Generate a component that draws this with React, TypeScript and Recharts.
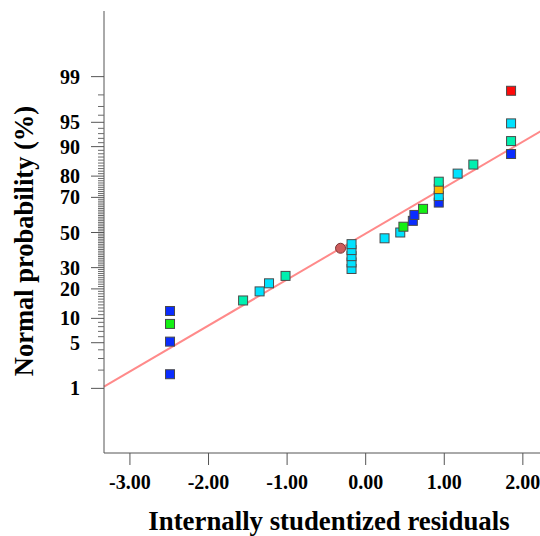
import React from "react";
import {
  ScatterChart,
  Scatter,
  XAxis,
  YAxis,
  ReferenceLine,
  Label,
} from "recharts";

// residuals (x) and their normal probability (%)
const residuals = [
  -2.49, -2.49, -2.49, -2.49, -1.56, -1.35, -1.23, -1.02, -0.18, -0.18, -0.18,
  -0.18, -0.18, 0.24, 0.44, 0.48, 0.6, 0.62, 0.73, 0.93, 0.93, 0.93, 0.93, 1.17,
  1.37, 1.85, 1.85, 1.85, 1.85,
];
const probabilities = [
  1.72, 5.17, 8.62, 12.07, 15.52, 18.97, 22.41, 25.86, 29.31, 32.76, 36.21,
  39.66, 43.1, 46.55, 50.0, 53.45, 56.9, 60.34, 63.79, 67.24, 70.69, 74.14,
  77.59, 81.03, 84.48, 87.93, 91.38, 94.83, 98.28,
];
const groups = [
  "blue", "blue", "green", "blue", "teal", "cyan", "cyan", "teal", "cyan",
  "cyan", "cyan", "cyan", "cyan", "cyan", "cyan", "green", "blue", "blue",
  "green", "blue", "cyan", "orange", "teal", "cyan", "teal", "blue", "teal",
  "cyan", "red",
];

// highlighted run (circle marker)
const highlightResidual = [-0.32];
const highlightProbability = [40.7];

// fitted normal line: z = slope * residual + intercept
const fitSlope = 0.686;
const fitIntercept = -0.016;

const xTicks = [-3, -2, -1, 0, 1, 2];
const majorPercents = [1, 5, 10, 20, 30, 50, 70, 80, 90, 95, 99];
const minorPercents = Array.from({ length: 99 }, (_, i) => i + 1);

const palette: Record<string, string> = {
  blue: "#0a2cff",
  green: "#14f014",
  cyan: "#00e2ff",
  teal: "#00f0b0",
  orange: "#ffbb00",
  red: "#ff0a0a",
};

const X_DOMAIN: [number, number] = [-3.33, 2.32];
const Y_DOMAIN: [number, number] = [-3.291, 3.306];
const FONT = '"Liberation Serif", "Times New Roman", serif';
const FRAME = "#555";

// inverse standard normal cdf (Acklam)
function probit(p: number): number {
  const a = [-39.69683028665376, 220.9460984245205, -275.928510446969, 138.357751867269, -30.66479806614716, 2.506628277459239];
  const b = [-54.47609879822406, 161.5858368580409, -155.6989798598866, 66.80131188771972, -13.28068155288572];
  const c = [-0.007784894002430293, -0.3223964580411365, -2.400758277161838, -2.549732539343734, 4.374664141464968, 2.938163982698783];
  const d = [0.007784695709041462, 0.3224671290700398, 2.445134137142996, 3.754408661907416];
  const pl = 0.02425;
  if (p < pl) {
    const q = Math.sqrt(-2 * Math.log(p));
    return (((((c[0] * q + c[1]) * q + c[2]) * q + c[3]) * q + c[4]) * q + c[5]) /
      ((((d[0] * q + d[1]) * q + d[2]) * q + d[3]) * q + 1);
  }
  if (p > 1 - pl) {
    const q = Math.sqrt(-2 * Math.log(1 - p));
    return -(((((c[0] * q + c[1]) * q + c[2]) * q + c[3]) * q + c[4]) * q + c[5]) /
      ((((d[0] * q + d[1]) * q + d[2]) * q + d[3]) * q + 1);
  }
  const q = p - 0.5;
  const r = q * q;
  return ((((((a[0] * r + a[1]) * r + a[2]) * r + a[3]) * r + a[4]) * r + a[5]) * q) /
    (((((b[0] * r + b[1]) * r + b[2]) * r + b[3]) * r + b[4]) * r + 1);
}

const points = residuals.map((x, i) => ({
  x,
  z: probit(probabilities[i] / 100),
  color: palette[groups[i]],
}));

const highlight = highlightResidual.map((x, i) => ({
  x,
  z: probit(highlightProbability[i] / 100),
}));

const yTicks = minorPercents.map((p) => probit(p / 100));

const fitSegment = X_DOMAIN.map((x) => ({ x, y: fitSlope * x + fitIntercept }));

// eslint-disable-next-line @typescript-eslint/no-explicit-any
const SquareMark = (props: any) => {
  const { cx, cy, payload } = props;
  if (cx == null || cy == null) return null;
  return (
    <rect
      x={cx - 4.5}
      y={cy - 4.5}
      width={9}
      height={9}
      fill={payload.color}
      stroke="#4a4a4a"
      strokeWidth={1}
    />
  );
};

// eslint-disable-next-line @typescript-eslint/no-explicit-any
const CircleMark = (props: any) => {
  const { cx, cy } = props;
  if (cx == null || cy == null) return null;
  return <circle cx={cx} cy={cy} r={5} fill="#cd5c5c" stroke="#7a3434" strokeWidth={1} />;
};

// eslint-disable-next-line @typescript-eslint/no-explicit-any
const ProbTick = (props: any) => {
  const { x, y, index } = props;
  const pct = minorPercents[index];
  const major = majorPercents.includes(pct);
  return (
    <g>
      <line
        x1={x - (major ? 13 : 6)}
        x2={x}
        y1={y}
        y2={y}
        stroke={major ? FRAME : "#6a6a6a"}
        strokeWidth={1}
      />
      {major && (
        <text
          x={x - 24}
          y={y}
          dy="0.35em"
          textAnchor="end"
          fontFamily={FONT}
          fontWeight="bold"
          fontSize={20}
          fill="#000"
        >
          {pct}
        </text>
      )}
    </g>
  );
};

export default function App() {
  return (
    <div
      style={{
        position: "absolute",
        left: 0,
        top: 0,
        width: 540,
        height: 536,
        overflow: "hidden",
        background: "#fff",
      }}
    >
      <ScatterChart
        width={560}
        height={536}
        margin={{ top: 11, right: 12, bottom: 0, left: 0 }}
      >
        <XAxis
          xAxisId="top"
          orientation="top"
          type="number"
          dataKey="x"
          domain={X_DOMAIN}
          height={0}
          tick={false}
          tickLine={false}
          axisLine={{ stroke: FRAME }}
        />
        <XAxis
          type="number"
          dataKey="x"
          domain={X_DOMAIN}
          allowDataOverflow
          ticks={xTicks}
          interval={0}
          tickFormatter={(v: number) => v.toFixed(2)}
          tickSize={12}
          tickMargin={10}
          height={83}
          axisLine={{ stroke: FRAME }}
          tickLine={{ stroke: FRAME }}
          tick={{ fontFamily: FONT, fontWeight: "bold", fontSize: 20, fill: "#000" }}
        >
          <Label
            // eslint-disable-next-line @typescript-eslint/no-explicit-any
            content={(p: any) => {
              const vb = p.viewBox;
              return (
                <text
                  x={vb.x + vb.width / 2 + 3}
                  y={vb.y + 77}
                  textAnchor="middle"
                  fontFamily={FONT}
                  fontWeight="bold"
                  fontSize={26.8}
                  fill="#000"
                >
                  Internally studentized residuals
                </text>
              );
            }}
          />
        </XAxis>
        <YAxis
          type="number"
          dataKey="z"
          domain={Y_DOMAIN}
          allowDataOverflow
          ticks={yTicks}
          interval={0}
          width={104}
          tickSize={0}
          tickMargin={0}
          tickLine={false}
          axisLine={{ stroke: FRAME }}
          tick={<ProbTick />}
        >
          <Label
            // eslint-disable-next-line @typescript-eslint/no-explicit-any
            content={(p: any) => {
              const vb = p.viewBox;
              const cx = vb.x + 33;
              const cy = vb.y + vb.height / 2 + 9;
              return (
                <text
                  x={cx}
                  y={cy}
                  transform={`rotate(-90, ${cx}, ${cy})`}
                  textAnchor="middle"
                  fontFamily={FONT}
                  fontWeight="bold"
                  fontSize={26.5}
                  fill="#000"
                >
                  Normal probability (%)
                </text>
              );
            }}
          />
        </YAxis>
        <ReferenceLine
          segment={fitSegment}
          stroke="#ff8a8a"
          strokeWidth={2}
          ifOverflow="visible"
        />
        <Scatter data={highlight} shape={<CircleMark />} isAnimationActive={false} />
        <Scatter data={points} shape={<SquareMark />} isAnimationActive={false} />
      </ScatterChart>
    </div>
  );
}
